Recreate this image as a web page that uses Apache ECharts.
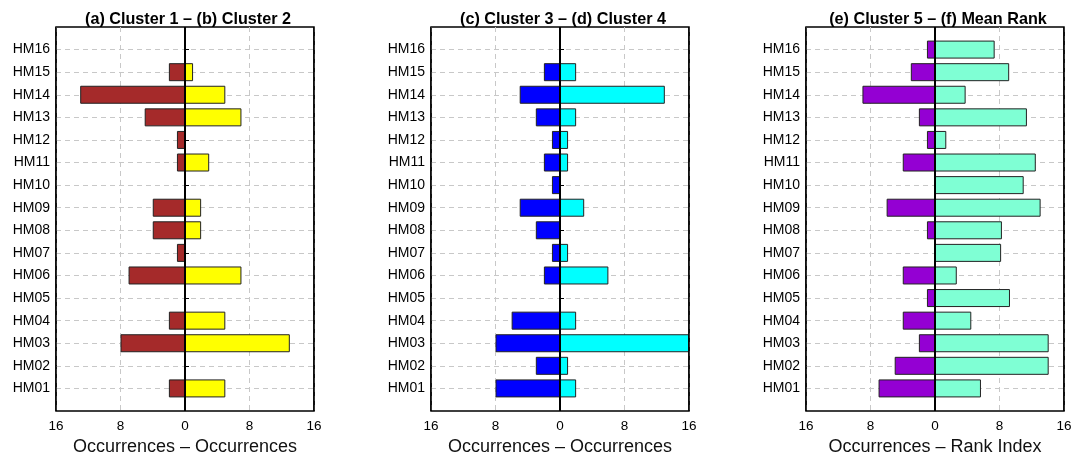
<!DOCTYPE html>
<html>
<head>
<meta charset="UTF-8"/>
<title>Cluster occurrences</title>
<script src="https://cdn.jsdelivr.net/npm/echarts@6/dist/echarts.min.js"></script>
<style>
html, body { margin: 0; padding: 0; background: #fff; }
#chart { width: 1073px; height: 456px; }
</style>
</head>
<body>
<div id="chart"></div>
<script>
// categories bottom to top
var hms = ['HM01','HM02','HM03','HM04','HM05','HM06','HM07','HM08',
           'HM09','HM10','HM11','HM12','HM13','HM14','HM15','HM16'];

// left side values (drawn to the left, as occurrences)
var cluster1 = [2, 0, 8, 2, 0, 7, 1, 4, 4, 0, 1, 1, 5, 13, 2, 0];
var cluster3 = [8, 3, 8, 6, 0, 2, 1, 3, 5, 1, 2, 1, 3, 5, 2, 0];
var cluster5 = [7, 5, 2, 4, 1, 4, 0, 1, 6, 0, 4, 1, 2, 9, 3, 1];
// right side values
var cluster2 = [5, 0, 13, 5, 0, 7, 0, 2, 2, 0, 3, 0, 7, 5, 1, 0];
var cluster4 = [2, 1, 16, 2, 0, 6, 1, 0, 3, 0, 1, 1, 2, 13, 2, 0];
var meanRank = [5.7, 14.1, 14.1, 4.5, 9.3, 2.7, 8.2, 8.3, 13.1, 11.0, 12.5, 1.4, 11.4, 3.8, 9.2, 7.4];

var titles = ['(a) Cluster 1 \u2013 (b) Cluster 2',
              '(c) Cluster 3 \u2013 (d) Cluster 4',
              '(e) Cluster 5 \u2013 (f) Mean Rank'];
var xNames = ['Occurrences \u2013 Occurrences',
              'Occurrences \u2013 Occurrences',
              'Occurrences \u2013 Rank Index'];
var xTicks = [-16, -8, 0, 8, 16];

var panels = [
    {left: cluster1, right: cluster2, cl: '#A52A2A', cr: '#FFFF00', x: 56},
    {left: cluster3, right: cluster4, cl: '#0000FF', cr: '#00FFFF', x: 431},
    {left: cluster5, right: meanRank, cl: '#9400D3', cr: '#7FFFD4', x: 806}
];

// pad with an empty slot at each end so the box has room above HM16 and below HM01
var cats = [''].concat(hms, ['']);
function pad(arr, sign) {
    return [null].concat(arr.map(function(v){ return v === 0 ? null : sign * v; }), [null]);
}
function inner(i) { return i > 0 && i < cats.length - 1; }

var font = '"Liberation Sans", Arial, Helvetica, sans-serif';
var grids = [], xAxes = [], yAxes = [], series = [], titleOpts = [];

panels.forEach(function(p, k) {
    grids.push({
        left: p.x, top: 27, width: 258, height: 384,
        outerBoundsMode: 'none',
        show: true, borderColor: '#000', borderWidth: 1.5, backgroundColor: 'transparent'
    });
    titleOpts.push({
        text: titles[k], left: p.x + 127, top: 7, textAlign: 'center',
        textStyle: {fontFamily: font, fontSize: 16.2, fontWeight: 'bold', color: '#000'}
    });
    xAxes.push({
        gridIndex: k, type: 'value', min: xTicks[0], max: xTicks[xTicks.length - 1], interval: 8,
        name: xNames[k], nameLocation: 'middle', nameGap: 27,
        nameTextStyle: {fontFamily: font, fontSize: 18, color: '#111'},
        axisLine: {show: false},
        axisTick: {show: false},
        axisLabel: {fontFamily: font, fontSize: 13.5, color: '#000', margin: 8,
            formatter: function(v){ return Math.abs(v); }},
        splitLine: {show: true, lineStyle: {color: '#c8c8c8', type: [5, 4], width: 1}}
    });
    yAxes.push({
        gridIndex: k, type: 'category', data: cats, boundaryGap: false,
        axisLine: {show: false},
        axisTick: {show: true, inside: true, length: 4, interval: inner,
            lineStyle: {color: '#000'}},
        axisLabel: {fontFamily: font, fontSize: 14, color: '#000', margin: 6, interval: 0},
        splitLine: {show: true, interval: inner,
            lineStyle: {color: '#c8c8c8', type: [5, 4], width: 1}}
    });
    series.push({
        type: 'bar', xAxisIndex: k, yAxisIndex: k, data: pad(p.left, -1),
        barWidth: 18, barGap: '-100%',
        itemStyle: {color: p.cl, borderColor: '#222', borderWidth: 1},
        markLine: {
            silent: true, symbol: 'none', label: {show: false},
            lineStyle: {color: '#000', type: 'solid'},
            data: [
                {xAxis: 0, lineStyle: {width: 2}},
                {xAxis: xTicks[0], lineStyle: {width: 1.5}},
                {xAxis: xTicks[xTicks.length - 1], lineStyle: {width: 1.5}}
            ]
        }
    });
    series.push({
        type: 'bar', xAxisIndex: k, yAxisIndex: k, data: pad(p.right, 1),
        barWidth: 18, barGap: '-100%',
        itemStyle: {color: p.cr, borderColor: '#222', borderWidth: 1}
    });
});

var myChart = echarts.init(document.getElementById('chart'));
myChart.setOption({
    animation: false,
    backgroundColor: '#fff',
    title: titleOpts,
    grid: grids,
    xAxis: xAxes,
    yAxis: yAxes,
    series: series
});
</script>
</body>
</html>
